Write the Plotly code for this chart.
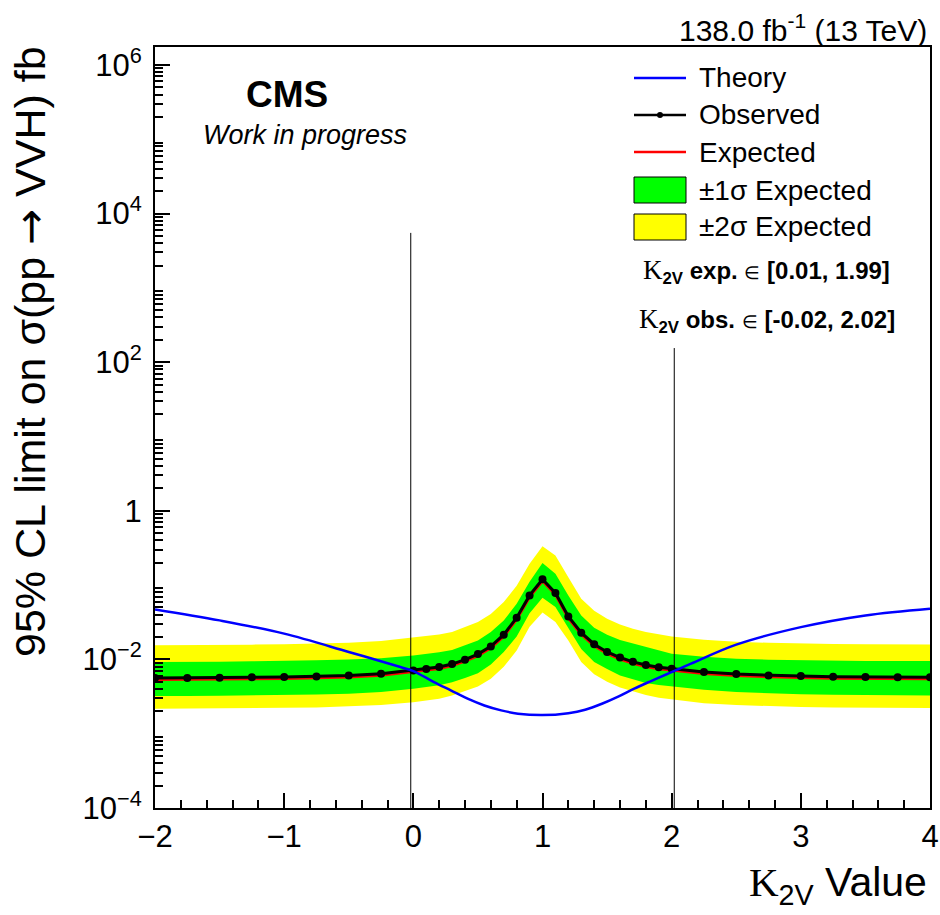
import plotly.graph_objects as go

# kappa_2V scan points
k2v = [-2.0, -1.75, -1.5, -1.25, -1.0, -0.75, -0.5, -0.25,
       0.0, 0.1, 0.2, 0.3, 0.4, 0.5, 0.6, 0.7, 0.8, 0.9, 1.0,
       1.1, 1.2, 1.3, 1.4, 1.5, 1.6, 1.7, 1.8, 1.9, 2.0,
       2.25, 2.5, 2.75, 3.0, 3.25, 3.5, 3.75, 4.0]

# 95% CL upper limits on sigma(pp -> VVH) [fb]
obs_limit = [0.00560, 0.00560, 0.00568, 0.00573, 0.00578, 0.00590, 0.00609, 0.00641,
             0.00711, 0.00741, 0.00789, 0.00865, 0.00991, 0.01178, 0.01496, 0.0215, 0.0364, 0.0726, 0.120,
             0.0785, 0.0379, 0.0229, 0.0160, 0.0126, 0.0106, 0.00927, 0.00839, 0.00785, 0.00750,
             0.00675, 0.00634, 0.00609, 0.00596, 0.00585, 0.00578, 0.00573, 0.00573]

exp_limit = [0.00535, 0.00535, 0.00542, 0.00547, 0.00552, 0.00563, 0.00581, 0.00612,
             0.00679, 0.00707, 0.00753, 0.00826, 0.00946, 0.01125, 0.01428, 0.0205, 0.0348, 0.0693, 0.1146,
             0.0750, 0.0362, 0.0219, 0.0153, 0.0120, 0.0101, 0.00885, 0.00801, 0.00750, 0.00716,
             0.00645, 0.00605, 0.00582, 0.00569, 0.00559, 0.00552, 0.00547, 0.00547]

exp_plus2 = [0.0155, 0.0155, 0.0157, 0.0158, 0.0160, 0.0163, 0.0168, 0.0177,
             0.0196, 0.0204, 0.0216, 0.0233, 0.0269, 0.0318, 0.0407, 0.0590, 0.0977, 0.194, 0.332,
             0.251, 0.128, 0.0656, 0.0452, 0.0353, 0.0295, 0.0259, 0.0234, 0.0216, 0.0204,
             0.0184, 0.0173, 0.0167, 0.0163, 0.0161, 0.0160, 0.0159, 0.0159]

exp_plus1 = [0.0092, 0.0092, 0.00933, 0.00942, 0.00951, 0.00971, 0.0100, 0.01035,
             0.01132, 0.01175, 0.01245, 0.01343, 0.0155, 0.0180, 0.0234, 0.0333, 0.0562, 0.111, 0.198,
             0.142, 0.0726, 0.0391, 0.0266, 0.0215, 0.0182, 0.0163, 0.0145, 0.0130, 0.0119,
             0.01084, 0.01023, 0.00989, 0.00973, 0.00962, 0.00955, 0.00951, 0.00951]

exp_minus1 = [0.00321, 0.00321, 0.00324, 0.00327, 0.00330, 0.00336, 0.00345, 0.00363,
              0.00404, 0.00421, 0.00449, 0.00494, 0.00562, 0.00653, 0.00851, 0.01253, 0.0204, 0.0417, 0.0676,
              0.0506, 0.0267, 0.0138, 0.00923, 0.00741, 0.00608, 0.00537, 0.00483, 0.00452, 0.00432,
              0.00389, 0.00363, 0.00348, 0.00340, 0.00334, 0.00330, 0.00327, 0.00327]

exp_minus2 = [0.00217, 0.00217, 0.00219, 0.00221, 0.00223, 0.00226, 0.00232, 0.00243,
              0.00266, 0.00277, 0.00295, 0.00327, 0.00372, 0.00432, 0.00550, 0.00794, 0.0132, 0.0275, 0.0427,
              0.0318, 0.0180, 0.0092, 0.00631, 0.00501, 0.00417, 0.00372, 0.00331, 0.00305, 0.00288,
              0.00257, 0.00243, 0.00233, 0.00228, 0.00225, 0.00223, 0.00221, 0.00221]

# theory cross section vs kappa_2V [fb]
theory_k2v = [-2.0, -1.5, -1.0, -0.5, -0.1, 0.0, 0.16, 0.29, 0.42, 0.55, 0.68, 0.81, 1.0,
              1.2, 1.33, 1.46, 1.59, 1.71, 1.84, 1.97, 2.15, 2.5, 3.0, 3.5, 4.0]
theory_xsec = [0.0471, 0.0335, 0.0222, 0.0126, 0.00789, 0.00697, 0.00495, 0.00383, 0.00296,
               0.00240, 0.00206, 0.00186, 0.00178, 0.00189, 0.00210, 0.00253, 0.00318, 0.00404,
               0.00511, 0.00641, 0.00875, 0.0158, 0.0272, 0.0391, 0.0481]

# allowed kappa_2V intervals
exp_interval = [0.01, 1.99]
obs_interval = [-0.02, 2.02]
obs_line_top = [5500.0, 155.0]

# y-axis decades: labelled (even) and unlabelled (odd)
y_label_decades = [-4, -2, 0, 2, 4, 6]
y_ticktext = ["10<sup>\u22124</sup>", "10<sup>\u22122</sup>", "1",
              "10<sup>2</sup>", "10<sup>4</sup>", "10<sup>6</sup>"]
y_plain_decades = [-3, -1, 1, 3, 5]

FONT = "Liberation Sans, Arial, Helvetica, sans-serif"
SERIF = "Liberation Serif, Times New Roman, serif"
SYMB = "DejaVu Sans, sans-serif"

W, H = 940, 915
ML, MR, MT, MB = 155, 10, 47, 107
PW, PH = W - ML - MR, H - MT - MB
Y_RANGE = [-4, 6.242]


def px(x):
    return (x - ML) / PW


def py(y):
    return (H - MB - y) / PH


fig = go.Figure()

# +-2 sigma band
fig.add_trace(go.Scatter(
    x=k2v + k2v[::-1], y=exp_plus2 + exp_minus2[::-1],
    fill="toself", fillcolor="#ffff00", line=dict(width=0),
    mode="lines", hoverinfo="skip", showlegend=False))
# +-1 sigma band
fig.add_trace(go.Scatter(
    x=k2v + k2v[::-1], y=exp_plus1 + exp_minus1[::-1],
    fill="toself", fillcolor="#00ff00", line=dict(width=0),
    mode="lines", hoverinfo="skip", showlegend=False))

# observed interval boundaries
for xv, top in zip(obs_interval, obs_line_top):
    fig.add_trace(go.Scatter(
        x=[xv, xv], y=[1e-4, top], mode="lines",
        line=dict(color="black", width=1), hoverinfo="skip", showlegend=False))

fig.add_trace(go.Scatter(
    x=k2v, y=exp_limit, mode="lines", line=dict(color="#ff0000", width=3),
    name="Expected", showlegend=False))
fig.add_trace(go.Scatter(
    x=k2v, y=obs_limit, mode="lines+markers",
    line=dict(color="black", width=3), marker=dict(color="black", size=8),
    name="Observed", showlegend=False))
fig.add_trace(go.Scatter(
    x=theory_k2v, y=theory_xsec, mode="lines", line=dict(color="#0000ff", width=2.5, shape="spline"),
    name="Theory", showlegend=False))

# y-axis minor ticks: 2..9 x 10^n
minor_vals = [m * 10.0 ** d for d in range(-4, 7) for m in range(2, 10)]

tick_common = dict(ticks="inside", ticklen=15, tickwidth=1.5, tickcolor="black",
                   showgrid=False, zeroline=False)

fig.update_layout(
    width=W, height=H,
    margin=dict(l=ML, r=MR, t=MT, b=MB, autoexpand=False),
    paper_bgcolor="white", plot_bgcolor="white",
    font=dict(family=FONT, color="black"),
    xaxis=dict(
        range=[-2, 4], tickmode="linear", tick0=-2, dtick=1,
        showline=True, linecolor="black", linewidth=2, mirror=True,
        tickfont=dict(size=31, family=FONT, color="black"),
        minor=dict(dtick=0.2, ticks="inside", ticklen=8, tickwidth=1.5,
                   tickcolor="black", showgrid=False),
        **tick_common,
    ),
    yaxis=dict(
        type="log", range=Y_RANGE,
        tickmode="array", tickvals=[10.0 ** d for d in y_label_decades], ticktext=y_ticktext,
        showline=True, linecolor="black", linewidth=2, mirror=True,
        tickfont=dict(size=31, family=FONT, color="black"),
        ticklabelstandoff=5,
        minor=dict(tickmode="array", tickvals=minor_vals, ticks="inside", ticklen=8,
                   tickwidth=1.5, tickcolor="black", showgrid=False),
        **tick_common,
    ),
    # companion axis carrying the unlabelled decade ticks
    yaxis2=dict(
        type="log", range=Y_RANGE, overlaying="y", anchor="x", side="left",
        tickmode="array", tickvals=[10.0 ** d for d in y_plain_decades],
        showticklabels=False, showline=False,
        **tick_common,
    ),
)

ann = []
shapes = []

# axis titles
ann.append(dict(xref="paper", yref="paper", x=px(30), y=py(352),
                text=f'95% CL limit on \u03c3(pp <span style="font-family:{SYMB}">\u2192</span> VVH) fb',
                textangle=-90,
                showarrow=False, xanchor="center", yanchor="middle",
                font=dict(size=43, family=FONT, color="black")))
ann.append(dict(xref="paper", yref="paper", x=px(929), y=py(885),
                text=f'<span style="font-family:{SERIF}">K</span><sub>2V</sub> Value',
                showarrow=False, xanchor="right", yanchor="middle",
                font=dict(size=41, family=FONT, color="black")))

# header texts
ann.append(dict(xref="paper", yref="paper", x=px(929), y=py(28),
                text="138.0 fb<sup>-1</sup> (13 TeV)", showarrow=False,
                xanchor="right", yanchor="middle",
                font=dict(size=30, family=FONT, color="black")))
ann.append(dict(xref="paper", yref="paper", x=px(287), y=py(95),
                text="<b>CMS</b>", showarrow=False, xanchor="center", yanchor="middle",
                font=dict(size=37, family=FONT, color="black")))
ann.append(dict(xref="paper", yref="paper", x=px(305), y=py(135),
                text="<i>Work in progress</i>", showarrow=False, xanchor="center", yanchor="middle",
                font=dict(size=27, family=FONT, color="black")))

# legend
LX0, LX1, LT = 634, 686, 697
legend_lines = [("Theory", 78, "#0000ff"), ("Observed", 115, "black"), ("Expected", 152, "#ff0000")]
for label, yy, col in legend_lines:
    shapes.append(dict(type="line", xref="paper", yref="paper",
                       x0=px(LX0), x1=px(LX1), y0=py(yy), y1=py(yy),
                       line=dict(color=col, width=2.5)))
    ann.append(dict(xref="paper", yref="paper", x=px(LT), y=py(yy), text=label,
                    showarrow=False, xanchor="left", yanchor="middle",
                    font=dict(size=28, family=FONT, color="black")))
shapes.append(dict(type="circle", xref="paper", yref="paper",
                   x0=px(657), x1=px(663), y0=py(112), y1=py(118),
                   fillcolor="black", line=dict(color="black", width=0)))

legend_boxes = [("\u00b11\u03c3 Expected", 177, 203, "#00ff00"),
                ("\u00b12\u03c3 Expected", 214, 240, "#ffff00")]
for label, y0, y1, col in legend_boxes:
    shapes.append(dict(type="rect", xref="paper", yref="paper",
                       x0=px(LX0), x1=px(LX1), y0=py(y1), y1=py(y0),
                       fillcolor=col, line=dict(color="black", width=1)))
    ann.append(dict(xref="paper", yref="paper", x=px(LT), y=py((y0 + y1) / 2), text=label,
                    showarrow=False, xanchor="left", yanchor="middle",
                    font=dict(size=28, family=FONT, color="black")))

kappa = f'<span style="font-family:{SERIF};font-size:27px">K</span><sub><b>2V</b></sub>'
elem = '<span style="font-size:18px">\u2208</span>'
exp_txt = f"{kappa} <b>exp.</b> {elem} <b>[{exp_interval[0]:.2f}, {exp_interval[1]:.2f}]</b>"
obs_txt = f"{kappa} <b>obs.</b> {elem} <b>[{obs_interval[0]:.2f}, {obs_interval[1]:.2f}]</b>"
ann.append(dict(xref="paper", yref="paper", x=px(766), y=py(271), text=exp_txt,
                showarrow=False, xanchor="center", yanchor="middle",
                font=dict(size=24, family=FONT, color="black")))
ann.append(dict(xref="paper", yref="paper", x=px(767), y=py(320), text=obs_txt,
                showarrow=False, xanchor="center", yanchor="middle",
                font=dict(size=24, family=FONT, color="black")))

fig.update_layout(annotations=ann, shapes=shapes)

fig.write_html("out.html")
